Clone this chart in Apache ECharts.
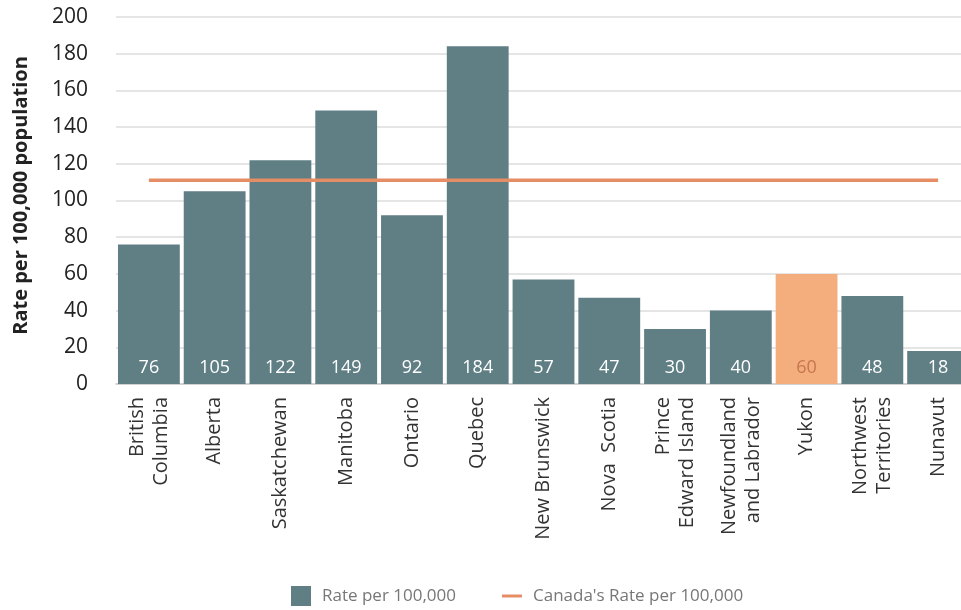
<!DOCTYPE html>
<html>
<head>
<meta charset="utf-8">
<script src="https://cdn.jsdelivr.net/npm/echarts@6/dist/echarts.min.js"></script>
<style>
  html, body { margin: 0; padding: 0; background: #fff; overflow: hidden; }
  /* the last bar runs past the right edge of the window */
  #chart { width: 975px; height: 610px; }
</style>
</head>
<body>
<div id="chart"></div>
<script>
// Provinces and territories, in display order
const provinces = [
  'British\nColumbia', 'Alberta', 'Saskatchewan', 'Manitoba', 'Ontario', 'Quebec',
  'New Brunswick', 'Nova  Scotia', 'Prince\nEdward Island', 'Newfoundland\nand Labrador',
  'Yukon', 'Northwest\nTerritories', 'Nunavut'
];
// Rate per 100,000 population
const provinceRates = [76, 105, 122, 149, 92, 184, 57, 47, 30, 40, 60, 48, 18];
// National rate, repeated across every category
const canadaRates = [111, 111, 111, 111, 111, 111, 111, 111, 111, 111, 111, 111, 111];
// Category that gets the highlight colour
const highlighted = 'Yukon';
const yTicks = { min: 0, max: 200, interval: 20 };

const FONT = '"Open Sans", "Noto Sans", sans-serif';
const BAR = '#5F7F85';
const HIGHLIGHT = '#F4AE7E';
const LINE = '#E58E65';

const chart = echarts.init(document.getElementById('chart'), null, { renderer: 'canvas' });

const barData = provinceRates.map((v, i) => {
  const isHi = provinces[i] === highlighted;
  return {
    value: v,
    itemStyle: { color: isHi ? HIGHLIGHT : BAR },
    label: { color: isHi ? '#C7764F' : '#ffffff' }
  };
});

chart.setOption({
  animation: false,
  textStyle: { fontFamily: FONT },
  grid: { left: 116, right: 4, top: 17, bottom: 226, containLabel: false },
  legend: {
    bottom: 4,
    left: 291,
    padding: 0,
    itemGap: 46,
    itemWidth: 20,
    itemHeight: 20,
    textStyle: { fontFamily: FONT, fontSize: 17, color: '#777', padding: [0, 0, 0, 6] },
    data: [
      { name: 'Rate per 100,000', icon: 'rect' },
      { name: "Canada's Rate per 100,000", icon: 'path://M0,0 L20,0 L20,3 L0,3 Z' }
    ]
  },
  xAxis: {
    type: 'category',
    data: provinces,
    axisLine: { lineStyle: { color: '#cccccc', width: 1.5 } },
    axisTick: { length: 6, lineStyle: { color: '#cccccc', width: 1.5 } },
    axisLabel: {
      rotate: 90,
      interval: 0,
      margin: 13,
      fontFamily: FONT,
      fontSize: 20,
      lineHeight: 24,
      color: '#333'
    }
  },
  yAxis: {
    type: 'value',
    min: yTicks.min,
    max: yTicks.max,
    interval: yTicks.interval,
    name: 'Rate per 100,000 population',
    nameLocation: 'middle',
    nameGap: 85,
    nameTextStyle: { fontFamily: FONT, fontSize: 20, fontWeight: 'bold', color: '#222', padding: [0, 0, 0, 10] },
    axisLine: { show: false },
    axisTick: { show: false },
    axisLabel: { margin: 28, fontFamily: FONT, fontSize: 21, color: '#222' },
    splitLine: { lineStyle: { color: '#dddddd', width: 1.5 } }
  },
  series: [
    {
      name: 'Rate per 100,000',
      type: 'bar',
      data: barData,
      barCategoryGap: '6%',
      itemStyle: { color: BAR },
      label: {
        show: true,
        position: 'insideBottom',
        distance: 7,
        fontFamily: FONT,
        fontSize: 18,
        color: '#fff'
      }
    },
    {
      name: "Canada's Rate per 100,000",
      type: 'line',
      data: canadaRates,
      symbol: 'none',
      lineStyle: { color: LINE, width: 3.5 },
      itemStyle: { color: LINE },
      z: 5
    }
  ]
});
</script>
</body>
</html>
